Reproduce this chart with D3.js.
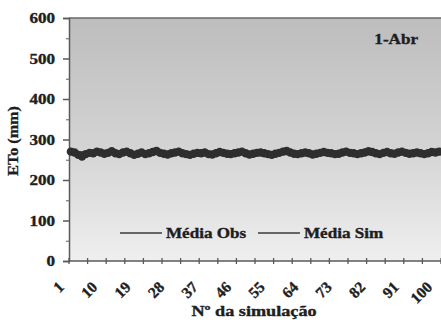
<!DOCTYPE html>
<html>
<head>
<meta charset="utf-8">
<script src="https://cdn.jsdelivr.net/npm/d3@7"></script>
<style>
  html, body { margin: 0; padding: 0; background: #fff; }
  svg { display: block; }
  text { font-family: "Liberation Serif", "Times New Roman", serif; font-weight: bold; fill: #1e1e1e; stroke: #1e1e1e; stroke-width: 0.35px; }
</style>
</head>
<body>
<div id="chart"></div>
<script>
// Simulation numbers 1..100
const simulations = d3.range(1, 101);
// Labelled simulation numbers on the x axis
const xTickLabels = [1, 10, 19, 28, 37, 46, 55, 64, 73, 82, 91, 100];
// Y axis ticks (mm)
const yTicks = [0, 100, 200, 300, 400, 500, 600];
const yMinorTicks = [50, 150, 250, 350, 450, 550];

// Observed mean ETo (mm), same for every simulation
const mediaObs = simulations.map(() => 266);
// Simulated mean ETo (mm) per simulation
const mediaSim = [
  270, 268, 262, 258, 264, 267, 266, 270, 268, 265,
  267, 271, 266, 264, 268, 270, 266, 262, 265, 268,
  264, 266, 269, 272, 267, 265, 263, 266, 268, 270,
  266, 264, 262, 265, 267, 266, 268, 264, 263, 266,
  269, 267, 265, 264, 266, 268, 270, 266, 263, 265,
  267, 268, 266, 264, 262, 265, 267, 270, 272, 268,
  265, 264, 266, 268, 266, 263, 265, 267, 269, 267,
  266, 264, 265, 268, 270, 267, 266, 264, 266, 268,
  271, 269, 266, 264, 267, 269, 266, 265, 268, 270,
  267, 265, 266, 268, 266, 264, 266, 269, 268, 270
];
const seriesNames = ["Média Obs", "Média Sim"];
const panelLabel = "1-Abr";
const yTitle = "ETo (mm)";
const xTitle = "Nº da simulação";

const W = 441, H = 320;
const plot = { left: 69, right: 441, top: 18, bottom: 261 };
const stretch = 1.22; // horizontal widening of the serif lettering

const svg = d3.select("#chart").append("svg").attr("width", W).attr("height", H);

const x = d3.scaleBand().domain(simulations).range([plot.left, plot.right]).paddingInner(0).paddingOuter(0);
const y = d3.scaleLinear().domain([0, 600]).range([plot.bottom, plot.top]);
const cx = d => x(d) + x.bandwidth() / 2;

// plot area background
const grad = svg.append("defs").append("linearGradient")
  .attr("id", "bg").attr("x1", 0).attr("y1", 0).attr("x2", 0).attr("y2", 1);
grad.append("stop").attr("offset", "0%").attr("stop-color", "#bdbdbd");
grad.append("stop").attr("offset", "50%").attr("stop-color", "#d2d2d2");
grad.append("stop").attr("offset", "100%").attr("stop-color", "#efefef");
svg.append("rect")
  .attr("x", plot.left).attr("y", plot.top)
  .attr("width", plot.right - plot.left).attr("height", plot.bottom - plot.top)
  .attr("fill", "url(#bg)");
svg.append("line")
  .attr("x1", plot.left).attr("x2", plot.right)
  .attr("y1", plot.top).attr("y2", plot.top)
  .attr("stroke", "#6a6a6a").attr("stroke-width", 1.5);

// y axis
const yAxis = svg.append("g").attr("transform", `translate(${plot.left},0)`)
  .call(d3.axisLeft(y).tickValues(yTicks).tickSize(6).tickFormat(""));
yAxis.select(".domain").attr("stroke", "#5a5a5a").attr("stroke-width", 1.5);
yAxis.selectAll(".tick line").attr("stroke", "#5a5a5a").attr("stroke-width", 1.5);
const yMinor = svg.append("g").attr("transform", `translate(${plot.left},0)`)
  .call(d3.axisLeft(y).tickValues(yMinorTicks).tickSize(3).tickFormat(""));
yMinor.select(".domain").remove();
yMinor.selectAll(".tick line").attr("stroke", "#777").attr("stroke-width", 1.2);

svg.append("g").selectAll("text").data(yTicks).join("text")
  .attr("transform", d => `translate(55,${y(d) + 5}) scale(${stretch},1)`)
  .attr("text-anchor", "end").attr("font-size", 14)
  .text(d => d);

// x axis: tick marks every 5 simulations, labels every 9
const xTickPos = d3.range(0, 101, 5).map(i => plot.left + i * x.bandwidth());
const xg = svg.append("g");
xg.append("line")
  .attr("x1", plot.left).attr("x2", plot.right)
  .attr("y1", plot.bottom).attr("y2", plot.bottom)
  .attr("stroke", "#5a5a5a").attr("stroke-width", 1.5);
xg.selectAll("line.tk").data(xTickPos).join("line").attr("class", "tk")
  .attr("x1", d => d).attr("x2", d => d)
  .attr("y1", plot.bottom - 3).attr("y2", plot.bottom + 3)
  .attr("stroke", "#5a5a5a").attr("stroke-width", 1.3);
xg.selectAll("text").data(xTickLabels).join("text")
  .attr("transform", d => `translate(${cx(d) - 6},${plot.bottom + 27}) rotate(-45)`)
  .attr("text-anchor", "end").attr("font-size", 15.5)
  .text(d => d);

// series
const line = d3.line().x((d, i) => cx(simulations[i])).y(d => y(d));
svg.append("path").datum(mediaObs)
  .attr("d", line).attr("fill", "none")
  .attr("stroke", "#2b2b2b").attr("stroke-width", 4);
svg.append("path").datum(mediaSim)
  .attr("d", line).attr("fill", "none")
  .attr("stroke", "#2b2b2b").attr("stroke-width", 4);
svg.append("g").selectAll("circle").data(mediaSim).join("circle")
  .attr("cx", (d, i) => cx(simulations[i])).attr("cy", d => y(d))
  .attr("r", 4.2).attr("fill", "#2e2e2e");

// legend
const legendY = 233;
const legendItems = [
  { name: seriesNames[0], x0: 120, x1: 162 },
  { name: seriesNames[1], x0: 258, x1: 300 }
];
const lg = svg.append("g");
legendItems.forEach(it => {
  lg.append("line")
    .attr("x1", it.x0).attr("x2", it.x1)
    .attr("y1", legendY).attr("y2", legendY)
    .attr("stroke", "#3a3a3a").attr("stroke-width", 1.5);
  lg.append("text")
    .attr("transform", `translate(${it.x1 + 4},${legendY + 5}) scale(${stretch},1)`)
    .attr("font-size", 14)
    .text(it.name);
});

// panel label
svg.append("text")
  .attr("transform", `translate(418,44) scale(${stretch},1)`)
  .attr("text-anchor", "end").attr("font-size", 14)
  .text(panelLabel);

// axis titles
svg.append("text")
  .attr("transform", `translate(18,141) rotate(-90) scale(1.15,1)`)
  .attr("text-anchor", "middle").attr("font-size", 14)
  .text(yTitle);
svg.append("text")
  .attr("transform", `translate(254,316) scale(1.3,1)`)
  .attr("text-anchor", "middle").attr("font-size", 14)
  .text(xTitle);
</script>
</body>
</html>
